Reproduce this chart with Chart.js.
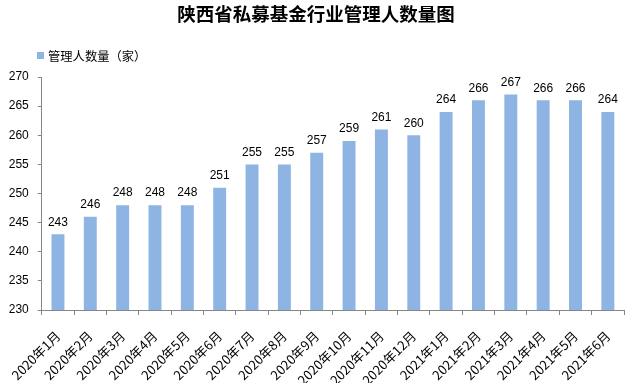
<!DOCTYPE html>
<html>
<head>
<meta charset="utf-8">
<script src="https://cdn.jsdelivr.net/npm/chart.js@4/dist/chart.umd.min.js"></script>
<style>
html,body{margin:0;padding:0;background:#fff;}
#wrap{width:632px;height:383px;position:relative;}
</style>
</head>
<body>
<div id="wrap"><canvas id="c" width="632" height="383"></canvas></div>
<script>
const chartTitle = "陕西省私募基金行业管理人数量图";
const seriesName = "管理人数量（家）";
const categories = ["2020年1月","2020年2月","2020年3月","2020年4月","2020年5月","2020年6月","2020年7月","2020年8月","2020年9月","2020年10月","2020年11月","2020年12月","2021年1月","2021年2月","2021年3月","2021年4月","2021年5月","2021年6月"];
const values = [243,246,248,248,248,251,255,255,257,259,261,260,264,266,267,266,266,264];
const yTicks = [230,235,240,245,250,255,260,265,270];

const BAR = "#8EB4E3";
const AXIS = "#868686";

const overlay = {
  id: "overlay",
  afterDatasetsDraw(chart) {
    const ctx = chart.ctx;
    const meta = chart.getDatasetMeta(0);
    ctx.save();
    ctx.fillStyle = "#000";
    ctx.font = "12px 'Liberation Sans', Arial, sans-serif";
    ctx.textAlign = "center";
    ctx.textBaseline = "bottom";
    meta.data.forEach((bar, i) => {
      ctx.fillText(String(values[i]), bar.x, bar.y - 6);
    });
    ctx.restore();
  },
  afterDraw(chart) {
    const ctx = chart.ctx;
    ctx.save();
    ctx.fillStyle = "#000";
    ctx.font = "bold 18.5px 'Noto Sans CJK SC', sans-serif";
    ctx.textAlign = "center";
    ctx.textBaseline = "middle";
    ctx.fillText(chartTitle, 316, 14);
    ctx.fillStyle = BAR;
    ctx.fillRect(37, 52, 7, 7);
    ctx.fillStyle = "#000";
    ctx.font = "12.3px 'Noto Sans CJK SC', sans-serif";
    ctx.textAlign = "left";
    ctx.fillText(seriesName, 48, 56);
    ctx.restore();
  }
};

new Chart(document.getElementById("c"), {
  type: "bar",
  data: {
    labels: categories,
    datasets: [{
      label: seriesName,
      data: values,
      backgroundColor: BAR,
      borderWidth: 0,
      barPercentage: 0.4,
      categoryPercentage: 1.0
    }]
  },
  options: {
    responsive: false,
    animation: false,
    devicePixelRatio: 1,
    layout: { padding: { top: 77, right: 5, left: 0, bottom: 0 } },
    plugins: {
      legend: { display: false },
      title: { display: false },
      tooltip: { enabled: false }
    },
    scales: {
      x: {
        offset: true,
        grid: { display: true, drawOnChartArea: false, drawTicks: true, tickLength: 5, color: AXIS, offset: true },
        border: { display: true, color: AXIS },
        ticks: {
          color: "#000",
          font: { family: "'Noto Sans CJK SC', sans-serif", size: 13 },
          minRotation: 45, maxRotation: 45, autoSkip: false, padding: 13
        },
        afterFit(scale) { scale.height = 73; }
      },
      y: {
        min: 230, max: 270,
        grid: { display: true, drawOnChartArea: false, drawTicks: true, tickLength: 4, color: AXIS },
        border: { display: true, color: AXIS },
        afterBuildTicks(scale) { scale.ticks = yTicks.map(v => ({ value: v })); },
        ticks: {
          color: "#000",
          font: { family: "'Liberation Sans', Arial, sans-serif", size: 12 },
          padding: 9
        },
        afterFit(scale) { scale.width = 41; }
      }
    }
  },
  plugins: [overlay]
});
</script>
</body>
</html>
